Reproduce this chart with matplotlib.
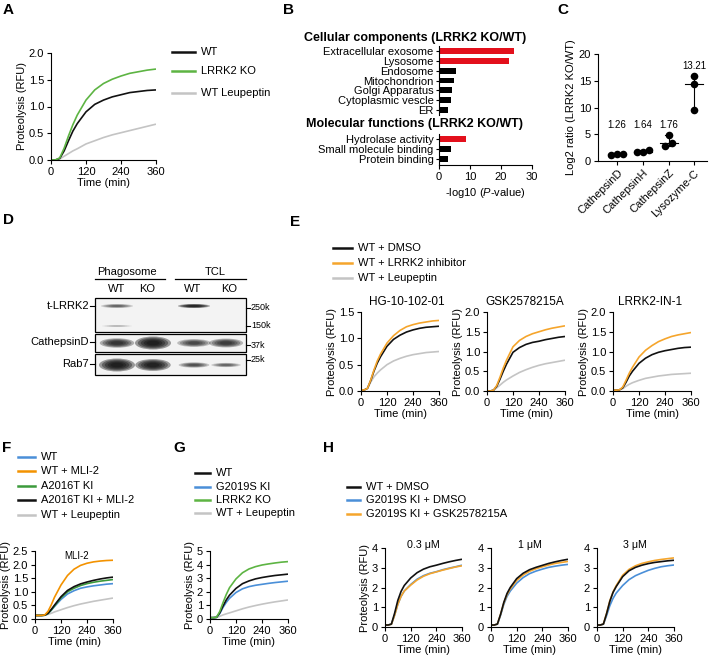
"""
Multi-panel phagosome proteolysis figure (panels A-H).
Curves are read off the reference at fixed time points.
"""

import numpy as np
import matplotlib
matplotlib.use("Agg")
import matplotlib.pyplot as plt
from matplotlib.lines import Line2D
from matplotlib.patches import Ellipse, Rectangle

plt.rcParams["font.family"] = ["Liberation Sans", "DejaVu Sans"]
plt.rcParams["mathtext.fontset"] = "custom"
plt.rcParams["mathtext.rm"] = "Liberation Sans"
plt.rcParams["mathtext.it"] = "Liberation Sans:italic"
plt.rcParams["axes.linewidth"] = 0.8

W, H = 709, 663
FS = 8

# time points (min) used for every proteolysis curve
T = [0, 15, 30, 45, 60, 75, 90, 120, 150, 180, 210, 240, 270, 300, 330, 360]

# ---- panel A
a_wt = [0, 0, 0.03, 0.17, 0.36, 0.54, 0.68, 0.90, 1.04, 1.12, 1.18, 1.22, 1.26, 1.28, 1.30, 1.31]
a_ko = [0, 0, 0.04, 0.22, 0.45, 0.66, 0.84, 1.12, 1.31, 1.43, 1.51, 1.57, 1.62, 1.65, 1.68, 1.70]
a_leu = [0, 0, 0.02, 0.07, 0.12, 0.17, 0.21, 0.30, 0.36, 0.42, 0.47, 0.51, 0.55, 0.59, 0.63, 0.67]
a_labels = ["WT", "LRRK2 KO", "WT Leupeptin"]

# ---- panel B
cc_terms = ["Extracellular exosome", "Lysosome", "Endosome", "Mitochondrion",
            "Golgi Apparatus", "Cytoplasmic vescle", "ER"]
cc_vals = [24.2, 22.6, 5.5, 4.9, 4.2, 4.0, 2.9]
cc_hi = [True, True, False, False, False, False, False]
mf_terms = ["Hydrolase activity", "Small molecule binding", "Protein binding"]
mf_vals = [8.7, 3.8, 2.9]
mf_hi = [True, False, False]

# ---- panel C
c_proteins = ["CathepsinD", "CathepsinH", "CathepsinZ", "Lysozyme-C"]
c_points = [[1.4, 1.1, 1.4], [2.1, 1.6, 1.6], [4.9, 2.8, 3.3], [15.9, 14.4, 9.5]]
c_fold = ["1.26", "1.64", "1.76", "13.21"]

# ---- panel D (band intensities per lane: Phago WT, Phago KO, TCL WT, TCL KO)
d_lanes = ["WT", "KO", "WT", "KO"]
d_lrrk2 = [0.45, 0.0, 0.95, 0.0]
d_lrrk2_low = [0.2, 0.0, 0.0, 0.0]
d_cathd = [0.75, 1.0, 0.6, 0.7]
d_rab7 = [1.0, 0.95, 0.55, 0.45]

# ---- panel E
e_titles = ["HG-10-102-01", "GSK2578215A", "LRRK2-IN-1"]
e_labels = ["WT + DMSO", "WT + LRRK2 inhibitor", "WT + Leupeptin"]
e1_dmso = [0.02, 0.02, 0.05, 0.20, 0.38, 0.53, 0.65, 0.85, 0.98, 1.06, 1.12, 1.16, 1.19, 1.21, 1.22, 1.23]
e1_inh = [0.02, 0.02, 0.05, 0.21, 0.40, 0.57, 0.70, 0.91, 1.05, 1.15, 1.22, 1.26, 1.29, 1.31, 1.33, 1.34]
e1_leu = [0.02, 0.02, 0.05, 0.17, 0.27, 0.34, 0.40, 0.50, 0.57, 0.62, 0.66, 0.69, 0.71, 0.73, 0.74, 0.75]
e2_dmso = [0, 0, 0.02, 0.12, 0.30, 0.50, 0.68, 0.98, 1.10, 1.18, 1.23, 1.26, 1.30, 1.33, 1.36, 1.38]
e2_inh = [0, 0, 0.02, 0.14, 0.35, 0.58, 0.78, 1.12, 1.28, 1.38, 1.45, 1.50, 1.55, 1.59, 1.62, 1.65]
e2_leu = [0, 0, 0.02, 0.08, 0.15, 0.22, 0.28, 0.38, 0.47, 0.54, 0.60, 0.65, 0.69, 0.72, 0.75, 0.78]
e3_dmso = [0.02, 0.02, 0.03, 0.08, 0.22, 0.38, 0.50, 0.70, 0.83, 0.92, 0.98, 1.02, 1.05, 1.08, 1.10, 1.11]
e3_inh = [0.02, 0.02, 0.03, 0.10, 0.27, 0.45, 0.60, 0.86, 1.03, 1.15, 1.25, 1.32, 1.38, 1.42, 1.45, 1.48]
e3_leu = [0.02, 0.02, 0.03, 0.06, 0.12, 0.17, 0.21, 0.27, 0.32, 0.35, 0.38, 0.40, 0.42, 0.43, 0.44, 0.45]

# ---- panel F
f_labels = ["WT", "WT + MLI-2", "A2016T KI", "A2016T KI + MLI-2", "WT + Leupeptin"]
f_wt = [0.13, 0.13, 0.13, 0.14, 0.20, 0.32, 0.46, 0.72, 0.92, 1.04, 1.13, 1.18, 1.22, 1.25, 1.28, 1.30]
f_mli = [0.13, 0.13, 0.13, 0.15, 0.28, 0.52, 0.80, 1.25, 1.60, 1.83, 1.97, 2.05, 2.10, 2.13, 2.15, 2.16]
f_ki = [0.13, 0.13, 0.13, 0.14, 0.20, 0.33, 0.48, 0.78, 1.00, 1.13, 1.23, 1.30, 1.35, 1.39, 1.42, 1.45]
f_ki_mli = [0.13, 0.13, 0.13, 0.14, 0.21, 0.35, 0.51, 0.82, 1.05, 1.19, 1.29, 1.36, 1.42, 1.47, 1.51, 1.54]
f_leu = [0.13, 0.13, 0.13, 0.14, 0.17, 0.21, 0.26, 0.34, 0.42, 0.49, 0.55, 0.60, 0.65, 0.69, 0.73, 0.77]

# ---- panel G
g_labels = ["WT", "G2019S KI", "LRRK2 KO", "WT + Leupeptin"]
g_wt = [0.1, 0.1, 0.12, 0.45, 0.95, 1.40, 1.75, 2.25, 2.60, 2.80, 2.95, 3.05, 3.13, 3.20, 3.25, 3.30]
g_gs = [0.1, 0.1, 0.12, 0.40, 0.85, 1.22, 1.52, 1.95, 2.22, 2.38, 2.48, 2.55, 2.62, 2.68, 2.73, 2.78]
g_ko = [0.1, 0.1, 0.13, 0.55, 1.20, 1.80, 2.30, 2.95, 3.40, 3.68, 3.85, 3.97, 4.05, 4.12, 4.18, 4.22]
g_leu = [0.1, 0.1, 0.11, 0.20, 0.30, 0.38, 0.45, 0.60, 0.75, 0.88, 0.99, 1.09, 1.18, 1.26, 1.33, 1.40]

# ---- panel H
h_titles = ["0.3 \u03bcM", "1 \u03bcM", "3 \u03bcM"]
h_labels = ["WT + DMSO", "G2019S KI + DMSO", "G2019S KI + GSK2578215A"]
h1_wt = [0.1, 0.1, 0.15, 0.70, 1.35, 1.80, 2.10, 2.48, 2.75, 2.93, 3.05, 3.13, 3.22, 3.30, 3.37, 3.43]
h1_gs = [0.1, 0.1, 0.14, 0.60, 1.15, 1.55, 1.82, 2.15, 2.42, 2.60, 2.72, 2.80, 2.90, 2.98, 3.05, 3.13]
h1_gsk = [0.1, 0.1, 0.14, 0.60, 1.15, 1.55, 1.82, 2.12, 2.38, 2.57, 2.70, 2.79, 2.88, 2.96, 3.04, 3.10]
h2_wt = [0.1, 0.1, 0.15, 0.65, 1.25, 1.70, 2.00, 2.45, 2.72, 2.90, 3.02, 3.12, 3.22, 3.30, 3.37, 3.43]
h2_gs = [0.1, 0.1, 0.14, 0.60, 1.15, 1.55, 1.82, 2.22, 2.50, 2.70, 2.83, 2.93, 3.02, 3.08, 3.13, 3.17]
h2_gsk = [0.1, 0.1, 0.15, 0.65, 1.22, 1.64, 1.93, 2.36, 2.63, 2.82, 2.95, 3.05, 3.14, 3.22, 3.27, 3.32]
h3_wt = [0.1, 0.1, 0.15, 0.68, 1.30, 1.75, 2.05, 2.55, 2.85, 3.02, 3.13, 3.21, 3.27, 3.31, 3.35, 3.38]
h3_gs = [0.1, 0.1, 0.14, 0.58, 1.08, 1.45, 1.72, 2.10, 2.40, 2.60, 2.74, 2.87, 2.97, 3.05, 3.10, 3.14]
h3_gsk = [0.1, 0.1, 0.15, 0.70, 1.33, 1.78, 2.10, 2.62, 2.92, 3.10, 3.22, 3.30, 3.37, 3.42, 3.46, 3.50]

BLACK = "#111111"
GRAY = "#c4c4c4"
GREEN = "#5db443"
DGREEN = "#3c9a3c"
ORANGE = "#f5a52c"
FORANGE = "#f39200"
BLUE = "#4a8fd8"
RED = "#e3101c"


def px_axes(fig, left, top, right, bottom):
    """Add axes from pixel edges (origin top-left)."""
    return fig.add_axes([left / W, 1 - bottom / H, (right - left) / W, (bottom - top) / H])


def clean(ax):
    ax.spines["top"].set_visible(False)
    ax.spines["right"].set_visible(False)
    ax.tick_params(labelsize=FS, length=3, width=0.8, pad=2)


def curve_axes(ax, ymax, ystep, fmt="%.1f", ylabel=True):
    clean(ax)
    ax.set_xlim(0, 360)
    ax.set_ylim(0, ymax)
    ax.set_xticks([0, 120, 240, 360])
    yt = np.arange(0, ymax + 1e-6, ystep)
    ax.set_yticks(yt)
    ax.set_yticklabels([fmt % v for v in yt])
    ax.set_xlabel("Time (min)", fontsize=FS, labelpad=1)
    if ylabel:
        ax.set_ylabel("Proteolysis (RFU)", fontsize=FS, labelpad=1)


def draw_curves(ax, series, colors):
    for ys, c in zip(series, colors):
        ax.plot(T, ys, color=c, lw=1.2, solid_capstyle="butt")


def legend(ov, x0, x1, ys, labels, colors):
    for y, lab, c in zip(ys, labels, colors):
        ov.add_line(Line2D([x0, x1], [y, y], color=c, lw=1.8))
        ov.text(x1 + 6, y, lab, fontsize=FS, va="center", ha="left")


def swarm_offsets(vals, gap=1.2, step=0.22):
    """Spread points sideways only where they would overlap."""
    order = np.argsort(vals)
    offs = np.zeros(len(vals))
    group = [order[0]]
    for j in order[1:]:
        if vals[j] - vals[group[-1]] < gap:
            group.append(j)
        else:
            n = len(group)
            for k, g in enumerate(group):
                offs[g] = (k - (n - 1) / 2) * step
            group = [j]
    n = len(group)
    for k, g in enumerate(group):
        offs[g] = (k - (n - 1) / 2) * step
    return offs


fig = plt.figure(figsize=(W / 100, H / 100), dpi=100)

# ---------------- A
ax = px_axes(fig, 51, 53, 156, 160)
draw_curves(ax, [a_leu, a_wt, a_ko], [GRAY, BLACK, GREEN])
curve_axes(ax, 2.0, 0.5)

# ---------------- B
axb1 = px_axes(fig, 439, 46, 532, 115)
pos = np.arange(len(cc_terms))
axb1.barh(pos, cc_vals, height=0.6, color=[RED if h else "black" for h in cc_hi])
axb1.set_ylim(len(cc_terms) - 0.5, -0.5)
axb1.set_xlim(0, 30)
axb1.set_yticks(pos)
axb1.set_yticklabels(cc_terms)
clean(axb1)
axb1.spines["bottom"].set_visible(False)
axb1.set_xticks([])

axb2 = px_axes(fig, 439, 134, 532, 165)
pos = np.arange(len(mf_terms))
axb2.barh(pos, mf_vals, height=0.6, color=[RED if h else "black" for h in mf_hi])
axb2.set_ylim(len(mf_terms) - 0.4, -0.5)
axb2.set_xlim(0, 30)
axb2.set_yticks(pos)
axb2.set_yticklabels(mf_terms)
axb2.set_xticks([0, 10, 20, 30])
clean(axb2)
axb2.set_xlabel(r"-log10 ($\it{P}$-value)", fontsize=FS, labelpad=3)
for a in (axb1, axb2):
    a.tick_params(axis="y", pad=1.5, length=2.5)

# ---------------- C
axc = px_axes(fig, 598, 54, 707, 161)
clean(axc)
for i, pts in enumerate(c_points):
    med = np.median(pts)
    axc.plot([i, i], [min(pts), max(pts)], color="black", lw=0.8)
    axc.plot([i - 0.12, i + 0.12], [min(pts)] * 2, color="black", lw=0.8)
    axc.plot([i - 0.12, i + 0.12], [max(pts)] * 2, color="black", lw=0.8)
    axc.plot([i - 0.35, i + 0.35], [med, med], color="black", lw=0.8)
    xs = i + swarm_offsets(np.array(pts), step=0.24)
    axc.scatter(xs, pts, s=30, color="black", zorder=3, linewidths=0)
axc.set_xlim(-0.75, 3.5)
axc.set_ylim(0, 20)
axc.set_yticks([0, 5, 10, 15, 20])
axc.set_xticks(range(len(c_proteins)))
axc.set_xticklabels(c_proteins, rotation=45, ha="right", rotation_mode="anchor")
axc.set_ylabel("Log2 ratio (LRRK2 KO/WT)", fontsize=FS, labelpad=2)
for i, lab in enumerate(c_fold):
    yl = 6.8 if i < 3 else 17.8
    axc.text(i, yl, lab, fontsize=7, ha="center", va="center")

# ---------------- E
e_sets = [(e1_dmso, e1_inh, e1_leu), (e2_dmso, e2_inh, e2_leu), (e3_dmso, e3_inh, e3_leu)]
e_left = [361, 487, 613]
e_max = [1.5, 2.0, 2.0]
for k in range(3):
    ax = px_axes(fig, e_left[k], 312, e_left[k] + 78, 391)
    d, inh, leu = e_sets[k]
    draw_curves(ax, [leu, d, inh], [GRAY, BLACK, ORANGE])
    curve_axes(ax, e_max[k], 0.5)

# ---------------- F
ax = px_axes(fig, 35, 551, 113, 619)
draw_curves(ax, [f_leu, f_wt, f_ki, f_ki_mli, f_mli], [GRAY, BLUE, DGREEN, BLACK, FORANGE])
curve_axes(ax, 2.5, 0.5)

# ---------------- G
ax = px_axes(fig, 210, 551, 288, 619)
draw_curves(ax, [g_leu, g_gs, g_wt, g_ko], [GRAY, BLUE, BLACK, GREEN])
curve_axes(ax, 5, 1, fmt="%d")

# ---------------- H
h_sets = [(h1_wt, h1_gs, h1_gsk), (h2_wt, h2_gs, h2_gsk), (h3_wt, h3_gs, h3_gsk)]
h_left = [385, 491, 597]
for k in range(3):
    ax = px_axes(fig, h_left[k], 548, h_left[k] + 77, 627)
    wt, gs, gsk = h_sets[k]
    draw_curves(ax, [gs, gsk, wt], [BLUE, ORANGE, BLACK])
    curve_axes(ax, 4, 1, fmt="%d", ylabel=(k == 0))

# ---------------- overlay: letters, legends, blot, titles
ov = fig.add_axes([0, 0, 1, 1])
ov.set_xlim(0, W)
ov.set_ylim(H, 0)
ov.axis("off")
ov.patch.set_visible(False)

for lab, x, y in [("A", 3, 3), ("B", 283, 3), ("C", 557, 3), ("D", 3, 213),
                  ("E", 290, 215), ("F", 2, 441), ("G", 173, 441), ("H", 323, 441)]:
    ov.text(x, y, lab, fontsize=11, fontweight="bold", ha="left", va="top")

legend(ov, 172, 195, [52, 71, 93], a_labels, [BLACK, GREEN, GRAY])
legend(ov, 333, 352, [248, 263, 278], e_labels, [BLACK, ORANGE, GRAY])
legend(ov, 18, 35, [457, 471, 486, 500, 515], f_labels, [BLUE, FORANGE, DGREEN, BLACK, GRAY])
legend(ov, 195, 210, [473, 487, 500, 513], g_labels, [BLACK, BLUE, GREEN, GRAY])
legend(ov, 347, 360, [487, 500, 514], h_labels, [BLACK, BLUE, ORANGE])

ov.text(415, 38, "Cellular components (LRRK2 KO/WT)", fontsize=9, fontweight="bold",
        ha="center", va="center")
ov.text(415, 124, "Molecular functions (LRRK2 KO/WT)", fontsize=9, fontweight="bold",
        ha="center", va="center")

for t, x in zip(e_titles, [407, 525, 650]):
    ov.text(x, 302, t, fontsize=8.5, ha="center", va="center")
ov.text(77, 556, "MLI-2", fontsize=7, ha="center", va="center")
for t, x in zip(h_titles, [423, 530, 635]):
    ov.text(x, 545, t, fontsize=7.7, ha="center", va="center")

# western blot (panel D)
lane_x = [117, 153, 194, 226]
rows = [(298, 332), (334, 352), (354, 375)]
for top, bot in rows:
    ov.add_patch(Rectangle((95, top), 151, bot - top, facecolor="#f3f3f3",
                           edgecolor="black", lw=0.9))


def band(x, y, w, h, inten):
    if inten <= 0:
        return
    for k in range(5):
        f = 1 - k * 0.16
        ov.add_patch(Ellipse((x, y), w * f, h * f, facecolor="#101010",
                             edgecolor="none", alpha=min(1, inten * 0.4)))


for i, x in enumerate(lane_x):
    band(x, 306, 32, 4, d_lrrk2[i])
    band(x, 326, 30, 2, d_lrrk2_low[i])
    band(x, 343, 30 + 6 * d_cathd[i], 5 + 8 * d_cathd[i] ** 2, d_cathd[i])
    band(x, 365, 24 + 12 * d_rab7[i], 2 + 11 * d_rab7[i] ** 2, d_rab7[i])

for lab, y in [("t-LRRK2", 306), ("CathepsinD", 342), ("Rab7", 364)]:
    ov.text(89, y, lab, fontsize=FS, ha="right", va="center")
    ov.add_line(Line2D([90, 95], [y, y], color="black", lw=0.8))
for lab, y in [("250k", 308), ("150k", 326), ("37k", 345), ("25k", 360)]:
    ov.add_line(Line2D([246, 250], [y, y], color="black", lw=0.8))
    ov.text(251, y, lab, fontsize=6.5, ha="left", va="center")

ov.text(127, 272, "Phagosome", fontsize=FS, ha="center", va="center")
ov.add_line(Line2D([95, 165], [279, 279], color="black", lw=0.9))
ov.text(215, 272, "TCL", fontsize=FS, ha="center", va="center")
ov.add_line(Line2D([175, 246], [279, 279], color="black", lw=0.9))
for lab, x in zip(d_lanes, [117, 147, 193, 229]):
    ov.text(x, 289, lab, fontsize=FS, ha="center", va="center")

fig.savefig("out.png", dpi=100)
